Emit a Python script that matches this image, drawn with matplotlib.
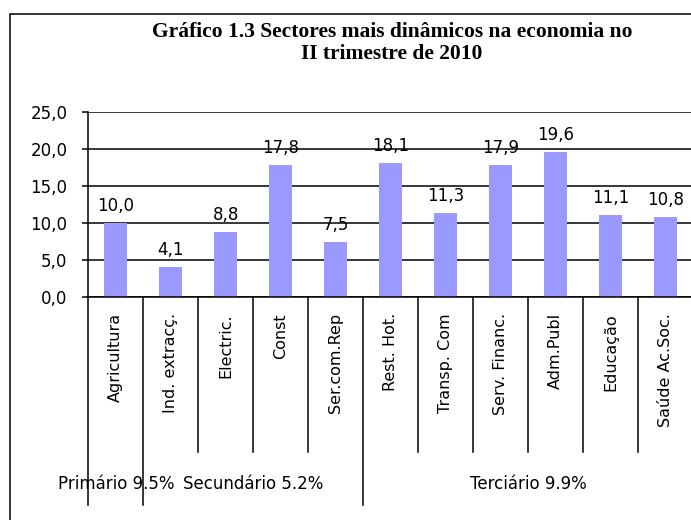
import matplotlib
matplotlib.use("Agg")
import matplotlib.pyplot as plt
import matplotlib.patches as mpatches
import numpy as np

categories = ["Agricultura", "Ind. extracç.", "Electric.", "Const", "Ser.com.Rep",
              "Rest. Hot.", "Transp. Com", "Serv. Financ.", "Adm.Publ", "Educação",
              "Saúde Ac.Soc."]
values = [10.0, 4.1, 8.8, 17.8, 7.5, 18.1, 11.3, 17.9, 19.6, 11.1, 10.8]
yticks = [0, 5, 10, 15, 20, 25]
groups = ["Primário 9.5%", "Secundário 5.2%", "Terciário 9.9%"]
group_bounds = [(0, 1), (1, 5), (5, 11)]  # category index ranges
title_lines = ["Gráfico 1.3 Sectores mais dinâmicos na economia no",
               "II trimestre de 2010"]

W, H = 691, 520
fig = plt.figure(figsize=(W / 100, H / 100), dpi=100)
fig.patch.set_facecolor("white")

# outer chart border (cut off at right and bottom in the reference)
border = mpatches.Rectangle((10 / W, -0.1), 1.2, 1 - 14 / H + 0.1,
                            transform=fig.transFigure, fill=False,
                            edgecolor="black", lw=1.1, clip_on=False)
fig.patches.append(border)

ax_l, ax_r, ax_b, ax_t = 88.3, 693.3, 297, 112
ax = fig.add_axes([ax_l / W, (H - ax_b) / H, (ax_r - ax_l) / W, (ax_b - ax_t) / H])

x = np.arange(len(categories))
ax.bar(x, values, width=0.42, color="#9999FF", zorder=2)
ax.set_xlim(-0.5, len(categories) - 0.5)
ax.set_ylim(0, 25)
ax.set_yticks(yticks)
ax.set_yticklabels([f"{v:.1f}".replace(".", ",") for v in yticks], fontsize=12)
ax.yaxis.grid(True, color="black", lw=1.1, zorder=0)
ax.set_axisbelow(True)
ax.tick_params(axis="y", length=4, width=1.1, pad=11, color="black")
for s in ["top", "right"]:
    ax.spines[s].set_visible(False)
for s in ["left", "bottom"]:
    ax.spines[s].set_linewidth(1.1)
    ax.spines[s].set_color("black")

ax.set_xticks(x)
ax.set_xticklabels(categories, rotation=90, fontsize=11.5)
ax.tick_params(axis="x", length=0, pad=11.5)

for xi, v in zip(x, values):
    ax.annotate(f"{v:.1f}".replace(".", ","), (xi, v), xytext=(0, 8.6),
                textcoords="offset points", ha="center", va="baseline",
                fontsize=12)

# category separators below axis
trans = ax.get_xaxis_transform()
h_short = -(452 - ax_b) / (ax_b - ax_t)
h_long = -(505 - ax_b) / (ax_b - ax_t)
long_bounds = {g[0] for g in group_bounds} | {group_bounds[-1][1]}
for k in range(len(categories) + 1):
    yb = h_long if k in long_bounds else h_short
    ax.plot([k - 0.5, k - 0.5], [0, yb], color="black", lw=1.1,
            transform=trans, clip_on=False)

y_grp = -(484 - ax_b) / (ax_b - ax_t)
for name, (a, b) in zip(groups, group_bounds):
    ax.text((a + b) / 2 - 0.5, y_grp, name, transform=trans, ha="center",
            va="center", fontsize=12)

fig.text(392 / W, 1 - 37 / H, title_lines[0], ha="center", va="baseline",
         fontsize=15.5, fontweight="bold", family="Liberation Serif")
fig.text(392 / W, 1 - 59 / H, title_lines[1], ha="center", va="baseline",
         fontsize=15.5, fontweight="bold", family="Liberation Serif")

fig.savefig("out.png", dpi=100)
